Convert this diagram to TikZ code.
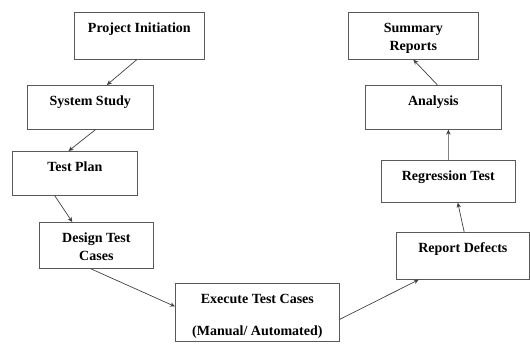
\documentclass[tikz,border=0pt]{standalone}
\usepackage{fontspec}
\setmainfont{Liberation Serif}
\usetikzlibrary{calc, arrows.meta}

\begin{document}
\begin{tikzpicture}[x=1pt, y=1pt,
  stagebox/.style={draw=black!65, line width=0.7pt, anchor=north west, align=center,
    inner xsep=2pt, inner ysep=6pt, text height=14pt,
    font=\fontsize{14}{18}\selectfont\bfseries},
  arr/.style={-{Stealth[length=5pt, width=4.5pt]}, line width=0.7pt, black!75}
]
\useasboundingbox (0,0) rectangle (530,345);

% left branch
\node[stagebox, minimum width=130, minimum height=47, text depth=21pt] (init) at (74,333) {Project Initiation};
\node[stagebox, minimum width=126, minimum height=44, text depth=18pt] (study) at (27,260) {System Study};
\node[stagebox, minimum width=125, minimum height=44, text depth=18pt] (plan) at (12,194) {Test Plan};
\node[stagebox, minimum width=114, minimum height=46, text height=32pt, text depth=2pt] (design) at (39,123) {Design Test\\Cases};

% bottom
\node[stagebox, minimum width=164, minimum height=55, text height=46pt, text depth=-3pt] (exec) at (175,62) {Execute Test Cases\\[14pt](Manual/ Automated)};

% right branch
\node[stagebox, minimum width=133, minimum height=47, text depth=21pt] (defects) at (396,113) {Report Defects};
\node[stagebox, minimum width=134, minimum height=42, text depth=16pt] (regress) at (381,185) {Regression Test};
\node[stagebox, minimum width=136, minimum height=44, text depth=18pt] (analysis) at (365,260) {Analysis};
\node[stagebox, minimum width=130, minimum height=47, text height=32pt, text depth=3pt] (summary) at (348,333) {Summary\\Reports};

\draw[arr] ($(init.south west)!.48!(init.south east)$) -- ($(study.north west)!.63!(study.north east)$);
\draw[arr] ($(study.south west)!.54!(study.south east)$) -- ($(plan.north west)!.45!(plan.north east)$);
\draw[arr] ($(plan.south west)!.34!(plan.south east)$) -- ($(design.north west)!.29!(design.north east)$);
\draw[arr] ($(design.south west)!.45!(design.south east)$) -- ($(exec.north west)!.4!(exec.south west)$);
\draw[arr] ($(exec.north east)!.62!(exec.south east)$) -- ($(defects.south west)!.17!(defects.south east)$);
\draw[arr] ($(defects.north west)!.51!(defects.north east)$) -- ($(regress.south west)!.57!(regress.south east)$);
\draw[arr] ($(regress.north west)!.5!(regress.north east)$) -- ($(analysis.south west)!.61!(analysis.south east)$);
\draw[arr] ($(analysis.north west)!.53!(analysis.north east)$) -- ($(summary.south west)!.5!(summary.south east)$);

\end{tikzpicture}
\end{document}
